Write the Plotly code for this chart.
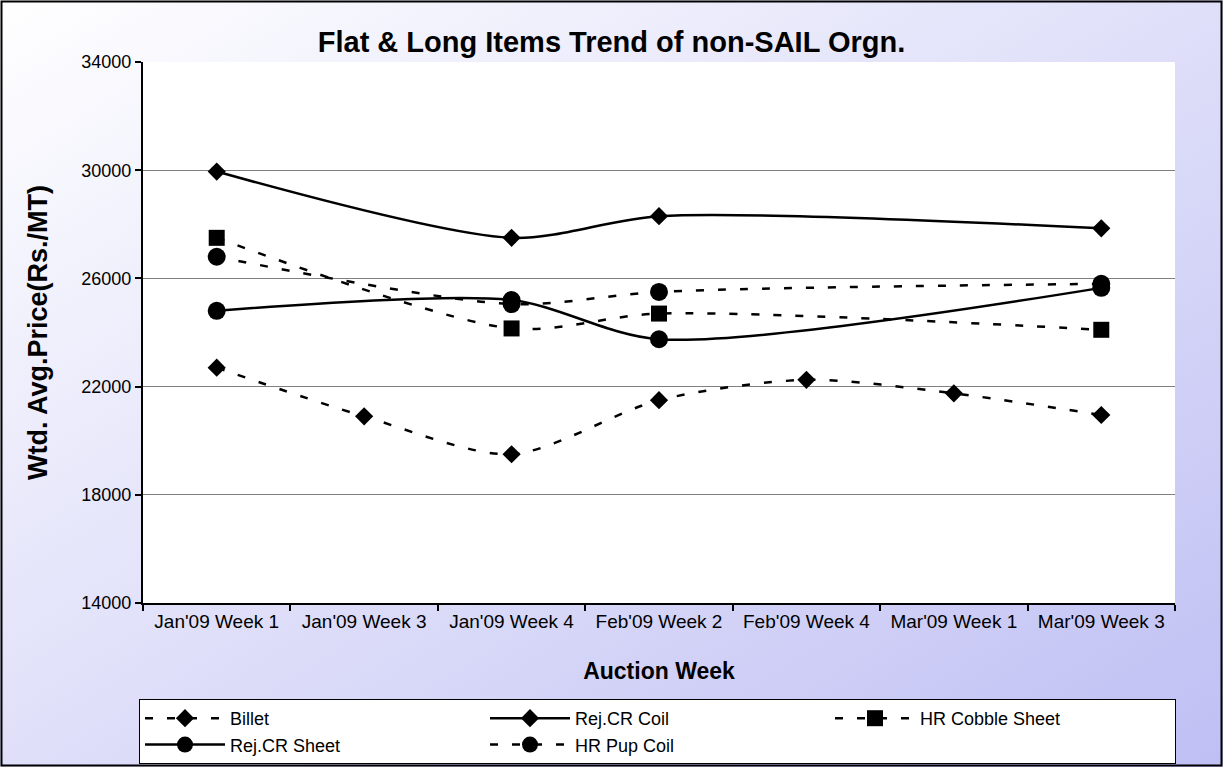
import base64
import plotly.graph_objects as go

# ---------------- data ----------------
categories = ["Jan'09 Week 1", "Jan'09 Week 3", "Jan'09 Week 4", "Feb'09 Week 2",
              "Feb'09 Week 4", "Mar'09 Week 1", "Mar'09 Week 3"]
billet = [22700, 20900, 19500, 21500, 22250, 21750, 20950]
rej_cr_coil = [29950, None, 27500, 28300, None, None, 27850]
hr_cobble_sheet = [27500, None, 24150, 24700, None, None, 24100]
rej_cr_sheet = [24800, None, 25200, 23750, None, None, 25650]
hr_pup_coil = [26800, None, 25050, 25500, None, None, 25800]

y_ticks = [14000, 18000, 22000, 26000, 30000, 34000]

# ---------------- layout geometry ----------------
W, H = 1223, 767
L, R, T, B = 143, 48, 62, 164
PW, PH = W - L - R, H - T - B

def px_x(p):
    return (p - L) / PW

def px_y(p):
    return (H - B - p) / PH

FONT = "Arial, Liberation Sans, sans-serif"
DASH = "8px,14px"

fig = go.Figure()

series = [
    ("Billet", billet, DASH, "diamond", 14),
    ("Rej.CR Coil", rej_cr_coil, "solid", "diamond", 14),
    ("HR Cobble Sheet", hr_cobble_sheet, DASH, "square", 16),
    ("Rej.CR Sheet", rej_cr_sheet, "solid", "circle", 18),
    ("HR Pup Coil", hr_pup_coil, DASH, "circle", 18),
]
for name, vals, dash, sym, size in series:
    fig.add_trace(go.Scatter(
        x=categories, y=vals, name=name, mode="lines+markers",
        connectgaps=True,
        line=dict(color="black", width=2.5, dash=dash, shape="spline", smoothing=0.8),
        marker=dict(symbol=sym, size=size, color="black"),
    ))

# gradient background as svg data uri
svg = f'''<svg xmlns="http://www.w3.org/2000/svg" width="{W}" height="{H}">
<defs><linearGradient id="g" x1="0" y1="0" x2="1" y2="1">
<stop offset="0" stop-color="#ffffff"/><stop offset="1" stop-color="#bfbff4"/>
</linearGradient></defs><rect width="{W}" height="{H}" fill="url(#g)"/></svg>'''
src = "data:image/svg+xml;base64," + base64.b64encode(svg.encode()).decode()

fig.add_layout_image(dict(
    source=src, xref="paper", yref="paper",
    x=px_x(0), y=px_y(0), sizex=W / PW, sizey=H / PH,
    xanchor="left", yanchor="top", sizing="stretch", layer="below",
))

# white plot area
fig.add_shape(type="rect", xref="paper", yref="paper", x0=0, x1=1, y0=0, y1=1,
              fillcolor="white", line=dict(width=0), layer="below")
# outer border
fig.add_shape(type="rect", xref="paper", yref="paper",
              x0=px_x(1.5), x1=px_x(W - 1.5), y0=px_y(H - 1.5), y1=px_y(1.5),
              line=dict(color="black", width=2), fillcolor="rgba(0,0,0,0)", layer="above")

fig.update_layout(
    width=W, height=H,
    margin=dict(l=L, r=R, t=T, b=B, autoexpand=False),
    paper_bgcolor="white",
    plot_bgcolor="rgba(0,0,0,0)",
    font=dict(family=FONT, color="black", size=18),
    title=dict(text="<b>Flat & Long Items Trend of non-SAIL Orgn.</b>",
               x=px_x(659), xanchor="center", y=1 - 42 / H, yanchor="middle",
               font=dict(size=29, family=FONT)),
    showlegend=True,
    legend=dict(
        orientation="h", xref="container", yref="container",
        x=1176 / W, xanchor="right", y=1 - 699 / H, yanchor="top",
        bgcolor="white", bordercolor="black", borderwidth=1,
        entrywidth=250, itemwidth=80, font=dict(size=18, family=FONT),
        tracegroupgap=0, traceorder="normal",
    ),
    xaxis=dict(
        type="category", range=[-0.5, 6.5], tickson="boundaries",
        ticks="outside", ticklen=6, tickwidth=2, tickcolor="black",
        showline=True, linecolor="black", linewidth=2, showgrid=False,
        tickfont=dict(size=19, family=FONT),
        title=dict(text="<b>Auction Week</b>", font=dict(size=23, family=FONT), standoff=32),
    ),
    yaxis=dict(
        range=[14000, 34000], tickvals=y_ticks, ticktext=[str(v) for v in y_ticks],
        ticks="outside", ticklen=6, tickwidth=2, tickcolor="black",
        showline=True, linecolor="black", linewidth=2,
        showgrid=True, gridcolor="#808080", gridwidth=1, zeroline=False,
        tickfont=dict(size=18, family=FONT),
        title=dict(text="<b>Wtd. Avg.Price(Rs./MT)</b>", font=dict(size=27, family=FONT), standoff=26),
    ),
)

fig.write_html(
    "out.html",
    config={"displayModeBar": False},
    post_script="document.body.style.margin='0';document.body.style.overflow='hidden';",
)
